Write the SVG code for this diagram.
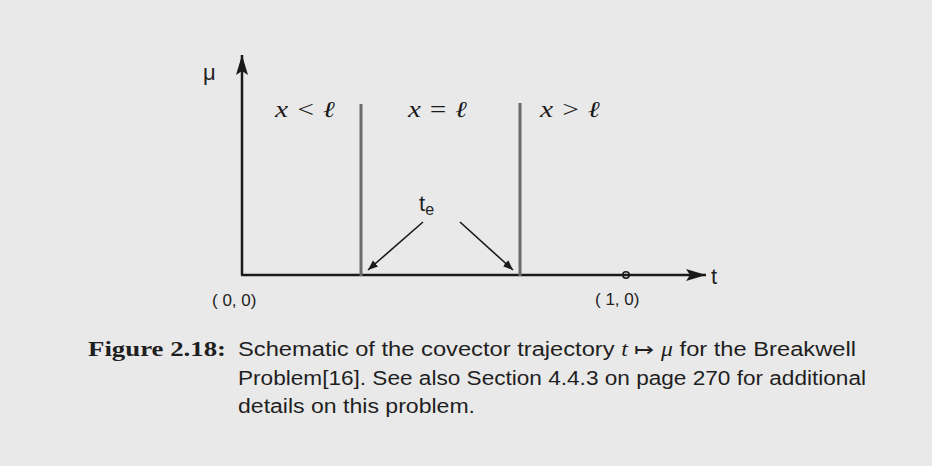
<svg xmlns="http://www.w3.org/2000/svg" width="932" height="466" viewBox="0 0 932 466">
<style>
.axis{stroke:#1a1a1a;stroke-width:2.5;fill:none}
.bar{stroke:#6b6b6b;stroke-width:3;fill:none}
.arr{stroke:#1a1a1a;stroke-width:1.6;fill:none}
.lab{font-family:"Liberation Sans",Arial,sans-serif;fill:#222}
.math{font-family:"Liberation Serif","Times New Roman",serif;font-style:italic;fill:#1a1a1a;font-size:23px}
.cap{font-family:"Liberation Sans",Arial,sans-serif;fill:#1f1f1f;font-size:20px}
.capb{font-family:"Liberation Serif","Times New Roman",serif;font-weight:bold;fill:#1f1f1f;font-size:20px}
</style>
<defs>
<marker id="ah" viewBox="0 0 10 10" refX="10" refY="5" markerWidth="10" markerHeight="10" markerUnits="userSpaceOnUse" orient="auto">
<path d="M0,1 L10,5 L0,9 z" fill="#1a1a1a"/>
</marker>
<marker id="big" viewBox="0 0 20 12" refX="20" refY="6" markerWidth="20" markerHeight="12" markerUnits="userSpaceOnUse" orient="auto">
<path d="M0,0 L20,6 L0,12 L4,6 z" fill="#1a1a1a"/>
</marker>
</defs>
<rect width="932" height="466" fill="#e9e9e9"/>
<g id="connectors">
<line class="axis" x1="242" y1="275" x2="242" y2="55" marker-end="url(#big)"/>
<line class="axis" x1="241" y1="275" x2="706" y2="275" marker-end="url(#big)"/>
<line class="arr" x1="423" y1="222" x2="368" y2="270" marker-end="url(#ah)"/>
<line class="arr" x1="460" y1="222" x2="513" y2="270" marker-end="url(#ah)"/>
</g>
<g id="switch1"><line class="bar" x1="361" y1="104" x2="361" y2="276"/></g>
<g id="switch2"><line class="bar" x1="520" y1="103" x2="520" y2="276"/></g>
<g id="point10"><circle cx="626" cy="275" r="3.2" fill="none" stroke="#1a1a1a" stroke-width="1.6"/></g>
<g id="labels">
<text class="lab" x="203" y="80" font-size="22">μ</text>
<text class="math" x="275" y="117" textLength="60" lengthAdjust="spacingAndGlyphs">x &lt; ℓ</text>
<text class="math" x="408" y="117" textLength="59" lengthAdjust="spacingAndGlyphs">x = ℓ</text>
<text class="math" x="540" y="117" textLength="60" lengthAdjust="spacingAndGlyphs">x &gt; ℓ</text>
<text class="lab" x="419" y="211" font-size="22">t<tspan font-size="16" dy="4">e</tspan></text>
<text class="lab" x="212" y="306" font-size="17">( 0, 0)</text>
<text class="lab" x="595" y="305" font-size="17">( 1, 0)</text>
<text class="lab" x="711" y="284" font-size="22">t</text>
</g>
<g id="caption">
<text class="capb" x="88" y="356" textLength="138" lengthAdjust="spacingAndGlyphs">Figure 2.18:</text>
<text class="cap" x="238" y="356" textLength="618" lengthAdjust="spacingAndGlyphs">Schematic of the covector trajectory <tspan font-family="Liberation Serif,serif" font-style="italic">t</tspan> ↦ <tspan font-family="Liberation Serif,serif" font-style="italic">μ</tspan> for the Breakwell</text>
<text class="cap" x="238" y="385" textLength="628" lengthAdjust="spacingAndGlyphs">Problem[16].  See also Section 4.4.3 on page 270 for additional</text>
<text class="cap" x="238" y="413" textLength="237" lengthAdjust="spacingAndGlyphs">details on this problem.</text>
</g>
</svg>
